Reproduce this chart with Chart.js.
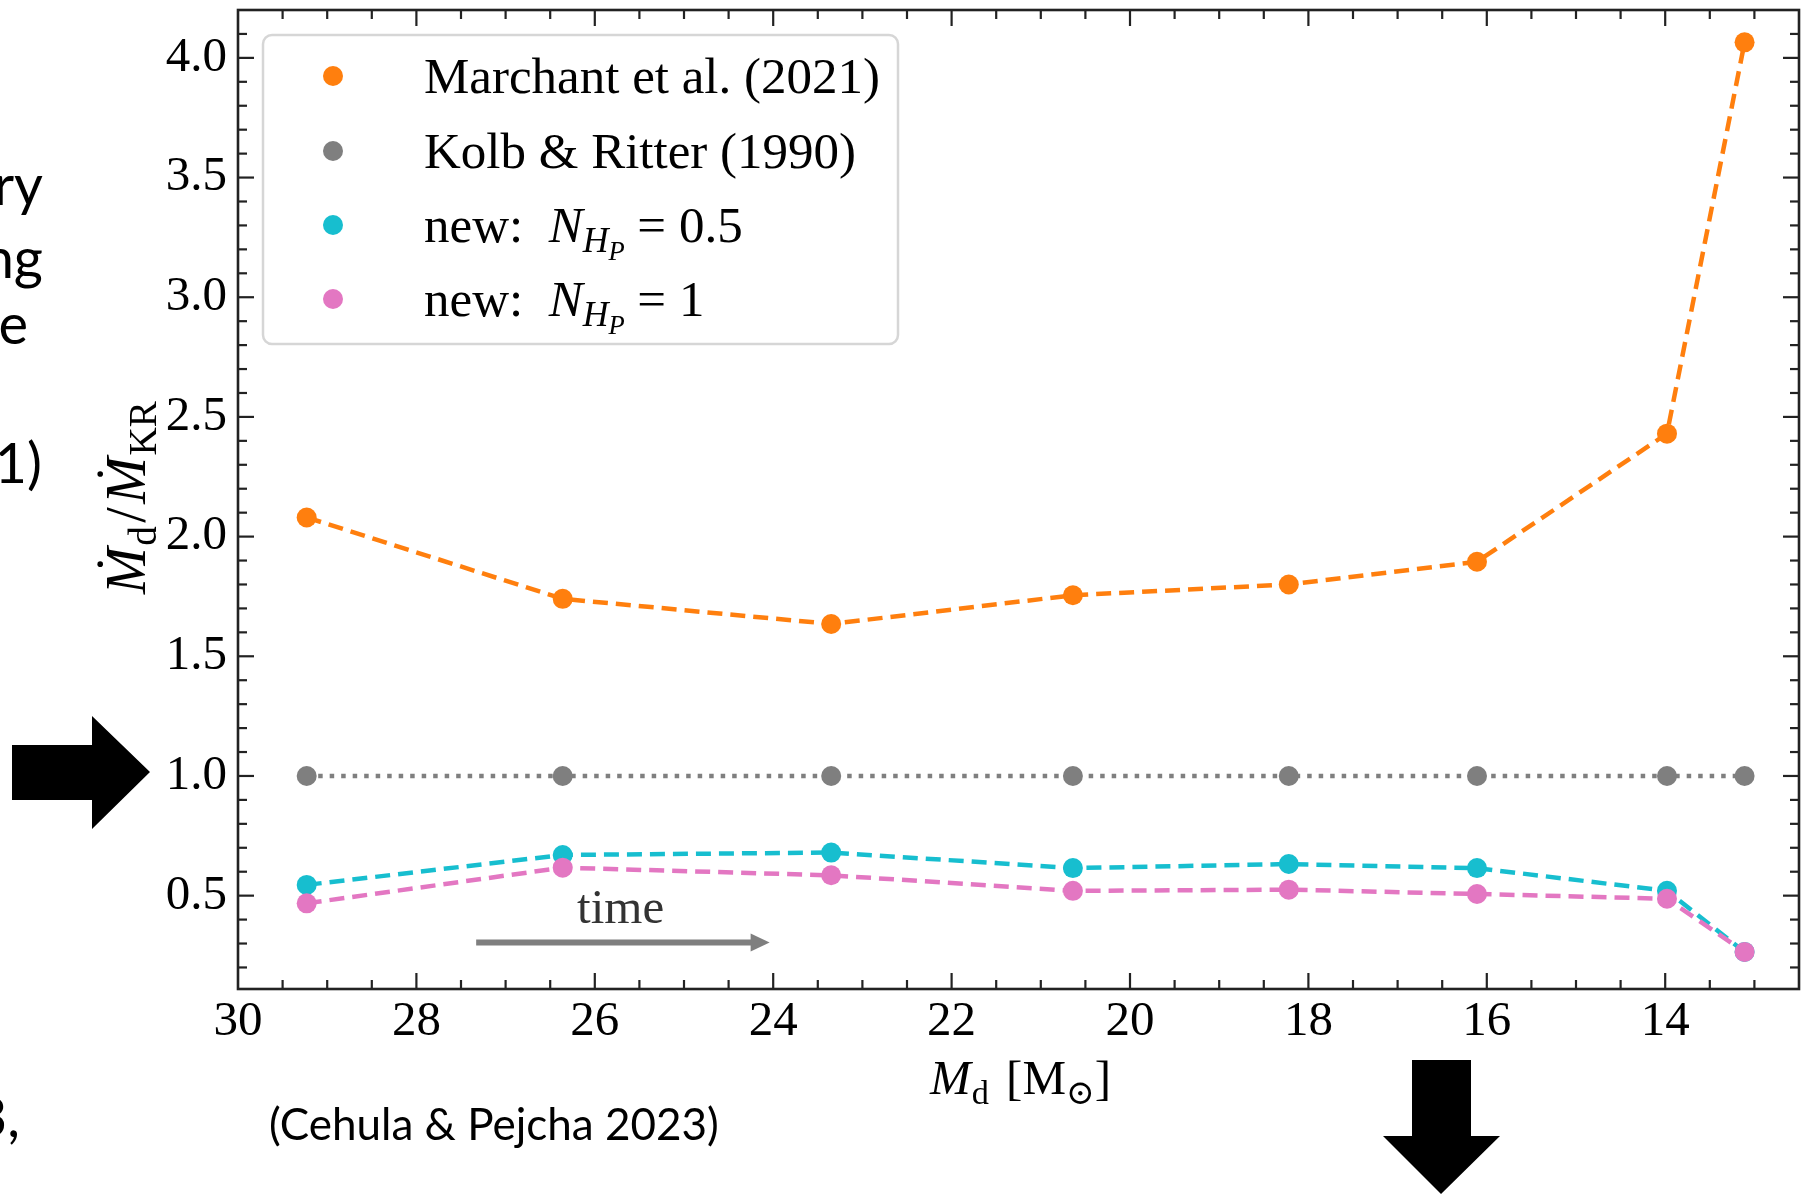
<!DOCTYPE html>
<html>
<head>
<meta charset="utf-8">
<script src="https://cdn.jsdelivr.net/npm/chart.js@4.4.1/dist/chart.umd.min.js"></script>
<style>
  html, body { margin: 0; padding: 0; background: #fff; overflow: hidden; }
  #wrap { position: relative; width: 1810px; height: 1195px; }
  #massChart { position: absolute; left: 0; top: 0; }
  #slide { position: absolute; left: 0; top: 0; pointer-events: none; }
  #slide text { font-family: Lato, 'Open Sans', sans-serif; fill: #000; }
</style>
</head>
<body>
<div id="wrap">
  <canvas id="massChart" width="1810" height="1195"></canvas>
  <svg id="slide" width="1810" height="1195" viewBox="0 0 1810 1195">
    <text x="43" y="205" font-size="56" text-anchor="end">ry</text>
    <text x="43" y="278" font-size="56" text-anchor="end">ng</text>
    <text x="28" y="344" font-size="56" text-anchor="end">e</text>
    <text x="42" y="483" font-size="56" text-anchor="end">1)</text>
    <text x="20" y="1137" font-size="56" text-anchor="end">3,</text>
    <text x="269" y="1140" font-size="44">(Cehula &amp; Pejcha 2023)</text>
    <polygon points="12,745 92,745 92,716 150,772 92,829 92,800 12,800" fill="#000"/>
    <polygon points="1412,1060 1471,1060 1471,1136 1500,1136 1441,1194 1383,1136 1412,1136" fill="#000"/>
  </svg>
</div>
<script>
// donor mass along the sequence [Msun]
const donorMass  = [29.23, 26.36, 23.35, 20.64, 18.22, 16.11, 13.98, 13.11];
// mass transfer rate relative to Kolb & Ritter
const marchant   = [2.08, 1.74, 1.635, 1.755, 1.80, 1.895, 2.43, 4.065];
const kolbRitter = [1.0, 1.0, 1.0, 1.0, 1.0, 1.0, 1.0, 1.0];
const newHalf    = [0.545, 0.67, 0.68, 0.615, 0.632, 0.615, 0.52, 0.265];
const newOne     = [0.468, 0.617, 0.585, 0.52, 0.525, 0.507, 0.487, 0.265];

const xTicks = [30, 28, 26, 24, 22, 20, 18, 16, 14];
const yTicks = [0.5, 1.0, 1.5, 2.0, 2.5, 3.0, 3.5, 4.0];

const SERIF = "'Liberation Serif', 'DejaVu Serif', serif";
const ORANGE = '#ff7f0e', GREY = '#7f7f7f', CYAN = '#17becf', PINK = '#e377c2';

function series(values, color, dash, order) {
  return {
    data: donorMass.map((x, i) => ({ x, y: values[i] })),
    borderColor: color,
    backgroundColor: color,
    pointBackgroundColor: color,
    borderWidth: 4.5,
    borderDash: dash,
    pointRadius: 10,
    pointHoverRadius: 10,
    pointBorderWidth: 0,
    tension: 0,
    fill: false,
    order
  };
}

// text made of roman/italic runs with sub and sub-sub levels
const LEVEL_SIZE = [1, 0.7, 0.52];
const LEVEL_DROP = [0, 0.2, 0.36];

function runFont(r, size) {
  const s = size * LEVEL_SIZE[r.lv || 0];
  return (r.it ? 'italic ' : '') + s + 'px ' + SERIF;
}

function measureRuns(ctx, runs, size) {
  let w = 0;
  for (const r of runs) {
    ctx.font = runFont(r, size);
    w += ctx.measureText(r.t).width + (r.gap || 0) * size;
  }
  return w;
}

function drawRuns(ctx, runs, x, y, size) {
  let cx = x;
  ctx.textAlign = 'left';
  ctx.textBaseline = 'alphabetic';
  for (const r of runs) {
    ctx.font = runFont(r, size);
    const w = ctx.measureText(r.t).width;
    ctx.fillText(r.t, cx, y + LEVEL_DROP[r.lv || 0] * size);
    if (r.dot) {
      ctx.beginPath();
      ctx.arc(cx + w * 0.64, y - size * 0.8, size * 0.05, 0, Math.PI * 2);
      ctx.fill();
    }
    cx += w + (r.gap || 0) * size;
  }
}

const yTitle = [
  { t: 'M', it: true, dot: true, gap: 0.03 }, { t: 'd', lv: 1, gap: 0.06 }, { t: '/', gap: 0.06 },
  { t: 'M', it: true, dot: true, gap: 0.03 }, { t: 'KR', lv: 1 }
];
const xTitle = [
  { t: 'M', it: true, gap: 0.02 }, { t: 'd', lv: 1, gap: 0.1 }, { t: ' [M' }, { t: '\u2299', lv: 1 }, { t: ']' }
];

const legendRows = [
  { color: ORANGE, runs: [{ t: 'Marchant et al. (2021)' }] },
  { color: GREY, runs: [{ t: 'Kolb & Ritter (1990)' }] },
  { color: CYAN, runs: [{ t: 'new:  ' }, { t: 'N', it: true }, { t: 'H', it: true, lv: 1 }, { t: 'P', it: true, lv: 2 }, { t: ' = 0.5' }] },
  { color: PINK, runs: [{ t: 'new:  ' }, { t: 'N', it: true }, { t: 'H', it: true, lv: 1 }, { t: 'P', it: true, lv: 2 }, { t: ' = 1' }] }
];

// frame with inward major/minor ticks on all four sides
const framePlugin = {
  id: 'frame',
  afterDatasetsDraw(chart) {
    const { ctx, chartArea: a, scales: { x, y } } = chart;
    ctx.save();
    ctx.strokeStyle = '#222';
    ctx.lineWidth = 2.2;
    const seg = (x1, y1, x2, y2) => { ctx.beginPath(); ctx.moveTo(x1, y1); ctx.lineTo(x2, y2); ctx.stroke(); };

    for (let k = 26; k < 60; k++) {
      const v = k / 2;
      const px = x.getPixelForValue(v);
      const len = xTicks.includes(v) ? 16 : 9;
      seg(px, a.bottom, px, a.bottom - len);
      seg(px, a.top, px, a.top + len);
    }
    for (let k = 2; k <= 41; k++) {
      const v = k / 10;
      const py = y.getPixelForValue(v);
      const len = (k % 5 === 0) ? 16 : 9;
      seg(a.left, py, a.left + len, py);
      seg(a.right, py, a.right - len, py);
    }
    ctx.lineWidth = 2.6;
    ctx.strokeRect(a.left, a.top, a.right - a.left, a.bottom - a.top);
    ctx.restore();
  },
  afterDraw(chart) {
    const { ctx, chartArea: a, scales: { x, y } } = chart;
    ctx.save();

    // time arrow
    const ax0 = x.getPixelForValue(27.33), ax1 = x.getPixelForValue(24.04);
    const ay = y.getPixelForValue(0.304);
    ctx.strokeStyle = GREY;
    ctx.fillStyle = GREY;
    ctx.lineWidth = 6;
    ctx.beginPath(); ctx.moveTo(ax0, ay); ctx.lineTo(ax1 - 16, ay); ctx.stroke();
    ctx.beginPath();
    ctx.moveTo(ax1, ay); ctx.lineTo(ax1 - 19, ay - 9); ctx.lineTo(ax1 - 19, ay + 9); ctx.closePath();
    ctx.fill();
    ctx.fillStyle = '#333';
    ctx.font = '49px ' + SERIF;
    ctx.textAlign = 'center';
    ctx.textBaseline = 'alphabetic';
    ctx.fillText('time', x.getPixelForValue(25.71), y.getPixelForValue(0.385));

    // legend
    const lx = 263, ly = 35, lw = 635, lh = 309;
    ctx.beginPath();
    ctx.roundRect(lx, ly, lw, lh, 9);
    ctx.fillStyle = 'rgba(255,255,255,0.8)';
    ctx.fill();
    ctx.strokeStyle = '#d6d6d6';
    ctx.lineWidth = 2.5;
    ctx.stroke();
    const rowY = [76, 151, 225, 299];
    legendRows.forEach((row, i) => {
      ctx.fillStyle = row.color;
      ctx.beginPath();
      ctx.arc(333, rowY[i], 10, 0, Math.PI * 2);
      ctx.fill();
      ctx.fillStyle = '#000';
      drawRuns(ctx, row.runs, 424, rowY[i] + 17, 51);
    });

    // axis titles
    ctx.fillStyle = '#000';
    const xw = measureRuns(ctx, xTitle, 49);
    drawRuns(ctx, xTitle, (a.left + a.right) / 2 - xw / 2 + 2, 1094, 49);

    ctx.translate(128, (a.top + a.bottom) / 2 - 2);
    ctx.rotate(-Math.PI / 2);
    const yw = measureRuns(ctx, yTitle, 56);
    drawRuns(ctx, yTitle, -yw / 2, 17, 56);
    ctx.restore();
  }
};

const tickFont = { family: SERIF, size: 49 };

new Chart(document.getElementById('massChart'), {
  type: 'line',
  data: {
    datasets: [
      series(marchant, ORANGE, [15, 8], 3),
      series(kolbRitter, GREY, [4.5, 7], 2),
      series(newHalf, CYAN, [15, 8], 1),
      series(newOne, PINK, [15, 8], 0)
    ]
  },
  options: {
    responsive: false,
    animation: false,
    devicePixelRatio: 1,
    layout: { padding: { left: 0, top: 9, right: 11, bottom: 0 } },
    plugins: {
      legend: { display: false },
      tooltip: { enabled: false }
    },
    scales: {
      x: {
        type: 'linear',
        reverse: true,
        min: 12.5,
        max: 30,
        afterBuildTicks: s => { s.ticks = xTicks.map(v => ({ value: v })); },
        afterFit: s => { s.height = 206; s.paddingLeft = 0; s.paddingRight = 0; },
        grid: { display: false },
        border: { display: false },
        ticks: { font: tickFont, color: '#000', padding: -4, maxRotation: 0, autoSkip: false, callback: v => String(v) }
      },
      y: {
        type: 'linear',
        min: 0.11,
        max: 4.2,
        afterBuildTicks: s => { s.ticks = yTicks.map(v => ({ value: v })); },
        afterFit: s => { s.width = 238; s.paddingTop = 0; s.paddingBottom = 0; },
        grid: { display: false },
        border: { display: false },
        ticks: { font: tickFont, color: '#000', padding: 3, autoSkip: false, callback: v => v.toFixed(1) }
      }
    }
  },
  plugins: [framePlugin]
});
</script>
</body>
</html>
